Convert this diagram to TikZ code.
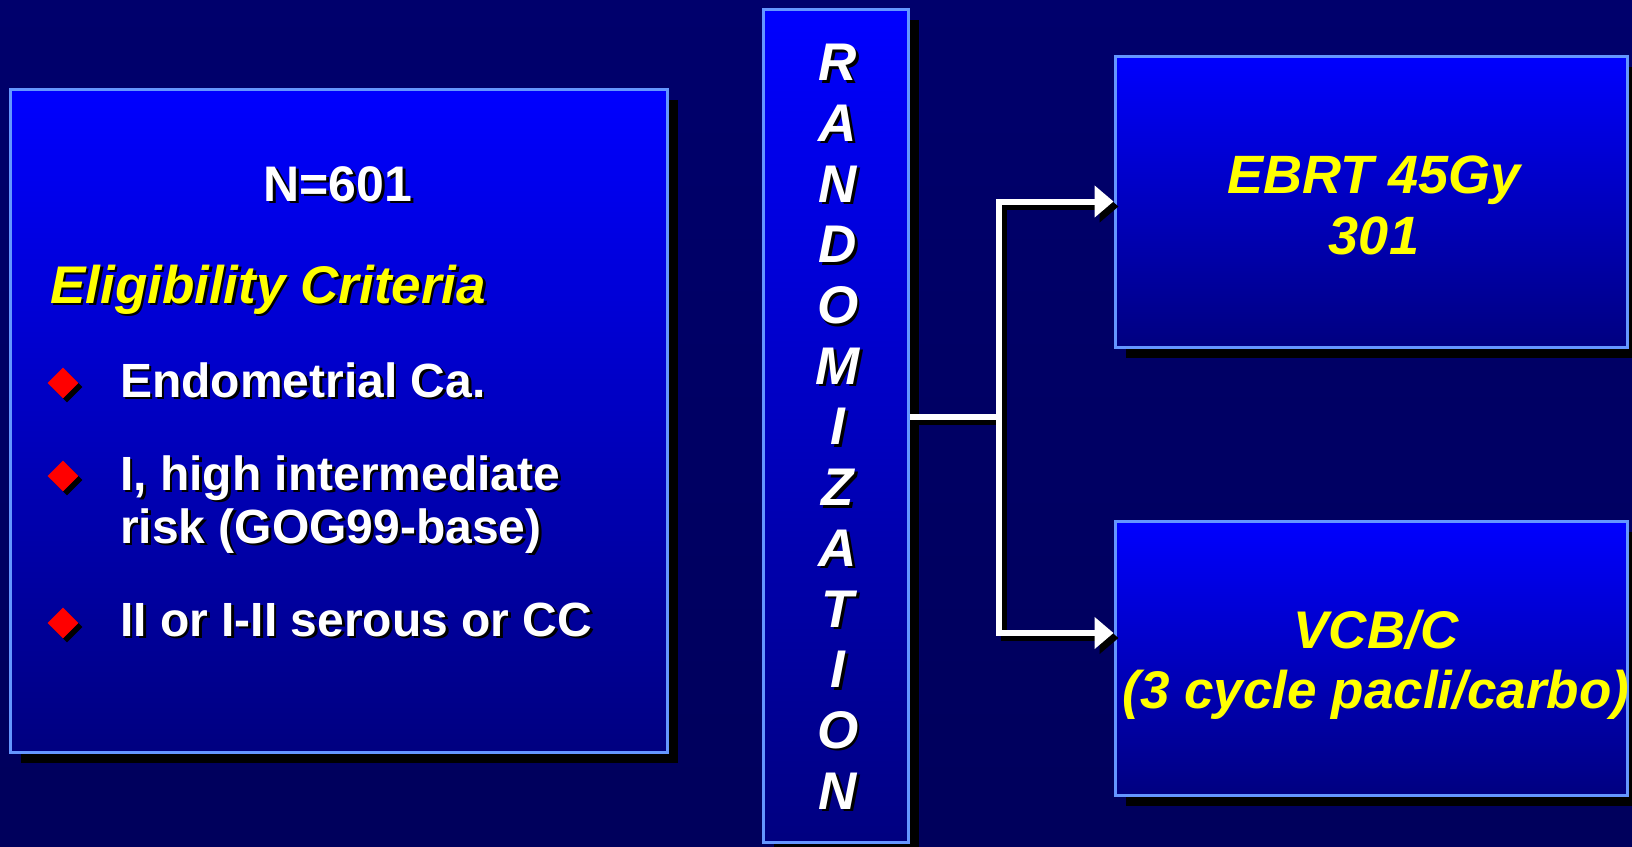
\documentclass[tikz,border=0pt]{standalone}
\usepackage{fontspec}
\setmainfont{Liberation Sans}
\usetikzlibrary{arrows.meta,shadows,shapes.geometric}
\definecolor{bgtop}{RGB}{0,0,108}
\definecolor{bgmid}{RGB}{0,0,132}
\definecolor{bgbot}{RGB}{0,0,92}
\definecolor{boxtop}{RGB}{0,0,255}
\definecolor{boxbot}{RGB}{0,0,128}
\definecolor{boxline}{RGB}{100,150,255}
\definecolor{ylw}{RGB}{255,255,0}
\newcommand{\shadowtext}[4]{%
  \node[#3, text=black, xshift=2.5pt, yshift=-2.5pt] (#1s) at #2 {#4};
  \node[#3] (#1) at #2 {#4};
}
\tikzset{
  panel/.style={draw=boxline, line width=3pt, top color=boxtop, bottom color=boxbot,
    inner sep=0pt, drop shadow={shadow xshift=11pt, shadow yshift=-11pt, fill=black, opacity=1}},
  bullet/.style={diamond, fill=red, minimum width=31pt, minimum height=31pt, inner sep=0pt,
    drop shadow={shadow xshift=4pt, shadow yshift=-4pt, fill=black, opacity=1}},
  whitetxt/.style={text=white, font=\bfseries\fontsize{48}{53}\selectfont, inner sep=0pt, anchor=base west},
  headtxt/.style={text=white, font=\bfseries\fontsize{50}{60}\selectfont, inner sep=0pt, anchor=base},
  eligtxt/.style={text=ylw, font=\bfseries\itshape\fontsize{53}{60}\selectfont, inner sep=0pt, anchor=base west},
  armtxt/.style={text=ylw, font=\bfseries\itshape\fontsize{53}{60}\selectfont, inner sep=0pt, anchor=base},
  randtxt/.style={text=white, font=\bfseries\itshape\fontsize{53}{60}\selectfont, inner sep=0pt, anchor=center},
  conn/.style={draw=white, line width=6pt, line join=miter},
  connshadow/.style={draw=black, line width=6pt, line join=miter, transform canvas={xshift=5pt, yshift=-5pt}},
  tip/.style={-{Triangle[length=19pt, width=31pt]}}
}
\begin{document}
\begin{tikzpicture}[x=1pt, y=-1pt]
\useasboundingbox (0,0) rectangle (1632,846);
\fill[top color=bgtop, middle color=bgmid, bottom color=bgbot] (0,0) rectangle (1632,846);

% boxes
\node[panel, minimum width=657pt, minimum height=663pt] (left) at (338.5,420.5) {};
\node[panel, minimum width=145pt, minimum height=833pt] (rand) at (835.5,425.5) {};
\node[panel, minimum width=512pt, minimum height=291pt] (top) at (1371,201.5) {};
\node[panel, minimum width=512pt, minimum height=274pt] (bot) at (1371,658) {};

% left box text
\shadowtext{n601}{(338,201)}{headtxt}{N=601}
\shadowtext{elig}{(50,303)}{eligtxt}{Eligibility Criteria}
\node[bullet] (d1) at (63,383) {};
\node[bullet] (d2) at (63,476) {};
\node[bullet] (d3) at (63,623) {};
\shadowtext{b1}{(120,397)}{whitetxt}{Endometrial Ca.}
\shadowtext{b2a}{(120,490)}{whitetxt}{I, high intermediate}
\shadowtext{b2b}{(120,543)}{whitetxt}{risk (GOG99-base)}
\shadowtext{b3}{(120,636)}{whitetxt}{II or I-II serous or CC}

% randomization letters
\foreach \l [count=\i from 0] in {R,A,N,D,O,M,I,Z,A,T,I,O,N} {
  \shadowtext{r\i}{(838,62.5+60.7*\i)}{randtxt}{\l}
}

% arm texts
\node[armtxt, font=\bfseries\itshape\fontsize{54}{60}\selectfont] (ebrt) at (1374,193) {EBRT 45Gy};
\node[armtxt, font=\bfseries\itshape\fontsize{54}{60}\selectfont] (n301) at (1374,254) {301};
\node[armtxt] (vcb) at (1376,648) {VCB/C};
\node[armtxt] (cyc) at (1376,708) {(3 cycle pacli/carbo)};

% connectors
\coordinate (split) at (999,417);
\coordinate (botin) at (1113.5,633);
\draw[connshadow] (split -| rand.east) -- (split);
\draw[connshadow, tip] (split) |- (top.west);
\draw[connshadow, tip] (split) |- (botin);
\draw[conn] (split -| rand.east) -- (split);
\draw[conn, tip] (split) |- (top.west);
\draw[conn, tip] (split) |- (botin);
\end{tikzpicture}
\end{document}
